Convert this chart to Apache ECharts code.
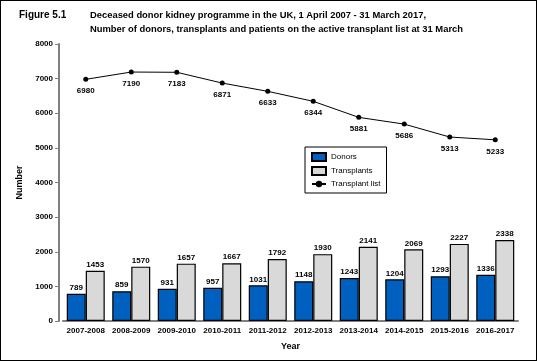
<!DOCTYPE html>
<html><head><meta charset="utf-8">
<script src="https://cdn.jsdelivr.net/npm/echarts@6/dist/echarts.min.js"></script>
<style>html,body{margin:0;padding:0;background:#fff}
#frame{position:absolute;left:0;top:0;width:535px;height:359px;border:1px solid #000;}
#c{position:absolute;left:0;top:0;width:537px;height:361px;}</style>
</head><body><div id="frame"></div><div id="c"></div>
<script>
const categories = ['2007-2008','2008-2009','2009-2010','2010-2011','2011-2012','2012-2013','2013-2014','2014-2015','2015-2016','2016-2017'];
const donors = [789,859,931,957,1031,1148,1243,1204,1293,1336];
const transplants = [1453,1570,1657,1667,1792,1930,2141,2069,2227,2338];
const transplantList = [6980,7190,7183,6871,6633,6344,5881,5686,5313,5233];
const yTicks = [0,1000,2000,3000,4000,5000,6000,7000,8000];

const chart = echarts.init(document.getElementById('c'), null, {renderer:'canvas'});
const font = 'Liberation Sans, Arial, sans-serif';
const lbl = {show:true, position:'top', distance:2, color:'#000', fontSize:8, fontWeight:'bold', fontFamily:font};
chart.setOption({
  animation:false,
  title:[
    {text:'Figure 5.1', left:14, top:5, textStyle:{fontSize:10, fontWeight:'bold', fontFamily:font, color:'#000'}},
    {text:'Deceased donor kidney programme in the UK, 1 April 2007 - 31 March 2017,\nNumber of donors, transplants and patients on the active transplant list at 31 March',
     left:85, top:3, textStyle:{fontSize:9.4, fontWeight:'bold', fontFamily:font, color:'#000', lineHeight:14}}
  ],
  legend:{
    orient:'vertical', left:305, top:147, width:83, padding:[5,6,5,6], itemGap:4,
    borderColor:'#000', borderWidth:1, backgroundColor:'#fff',
    itemWidth:14, itemHeight:8,
    textStyle:{fontSize:8, fontFamily:font, color:'#000'},
    data:[{name:'Donors', icon:'rect'},{name:'Transplants', icon:'rect'},{name:'Transplant list'}]
  },
  grid:{left:63, right:19, top:44, bottom:40, containLabel:false},
  xAxis:{
    type:'category', data:categories,
    name:'Year', nameLocation:'middle', nameGap:21,
    nameTextStyle:{fontSize:9, fontWeight:'bold', fontFamily:font, color:'#000'},
    axisLine:{lineStyle:{color:'#808080', width:2}},
    axisTick:{show:false},
    axisLabel:{fontSize:8, fontWeight:'bold', fontFamily:font, color:'#000', margin:6, interval:0}
  },
  yAxis:{
    type:'value', min:0, max:8000, interval:1000, offset:4,
    name:'Number', nameLocation:'middle', nameGap:34, nameRotate:90,
    nameTextStyle:{fontSize:9, fontWeight:'bold', fontFamily:font, color:'#000'},
    axisLine:{show:true, lineStyle:{color:'#808080', width:2}},
    axisTick:{show:true, length:4, lineStyle:{color:'#808080'}},
    splitLine:{show:false},
    axisLabel:{fontSize:8, fontWeight:'bold', fontFamily:font, color:'#000', margin:6,
      formatter:v=>yTicks.includes(v)?String(v):''}
  },
  series:[
    {name:'Donors', type:'bar', data:donors, barWidth:19, barGap:'0%',
     itemStyle:{color:'#0060C0', borderColor:'#000', borderWidth:1.2}, label:lbl},
    {name:'Transplants', type:'bar', data:transplants, barWidth:19,
     itemStyle:{color:'#D9D9D9', borderColor:'#000', borderWidth:1.2}, label:lbl},
    {name:'Transplant list', type:'line', data:transplantList, symbol:'circle', symbolSize:5,
     itemStyle:{color:'#000'}, lineStyle:{color:'#000', width:1},
     label:{show:true, position:'bottom', distance:5, color:'#000', fontSize:8, fontWeight:'bold', fontFamily:font}}
  ]
});
</script></body></html>
